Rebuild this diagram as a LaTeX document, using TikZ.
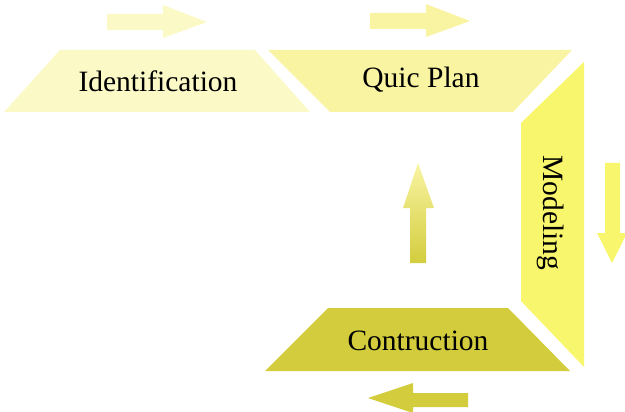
\documentclass[tikz,border=0pt]{standalone}
\usepackage{fontspec}
\setmainfont{Liberation Serif}
\definecolor{paleyel}{HTML}{FBF9C6}
\definecolor{lightyel}{HTML}{F9F4A2}
\definecolor{brightyel}{HTML}{F8F66C}
\definecolor{oliveyel}{HTML}{D3CD3E}
\begin{document}
\begin{tikzpicture}[x=1pt,y=-1pt]
			\useasboundingbox (0,0) rectangle (625,412);
			
			% the four blocks
			\fill[paleyel] (60,50) -- (255,50) -- (310,112) -- (4,112) -- cycle;
			\fill[lightyel] (268,50) -- (572,50) -- (513,112) -- (330,112) -- cycle;
			\fill[brightyel] (521,123) -- (584,62) -- (584,367) -- (521,301) -- cycle;
			\fill[oliveyel] (328,308) -- (508,308) -- (570,371) -- (265,371) -- cycle;
			
			\begin{scope}[every node/.style={inner sep=0pt,anchor=base,
				font=\fontsize{29.5}{34}\selectfont}]
			\node (I) at (158,92) {Identification};
			\node (Q) at (421,88) {Quic Plan};
			\node[rotate=-90] (M) at (543,213) {Modeling};
			\node (C) at (418,350) {Contruction};
			\end{scope}
			
			% block arrows
			\fill[paleyel] (107,14) -- (163,14) -- (163,5) -- (207,22) -- (163,38) -- (163,30) -- (107,30) -- cycle;
			\fill[lightyel] (370,13) -- (426,13) -- (426,4) -- (470,21) -- (426,37) -- (426,29) -- (370,29) -- cycle;
			\fill[brightyel] (605,163) -- (620,163) -- (620,233) -- (627,233) -- (612,263) -- (597,233) -- (605,233) -- cycle;
			\shade[top color=lightyel,bottom color=oliveyel] (410,263) -- (410,208) -- (403,208) -- (418,163) -- (434,208) -- (426,208) -- (426,263) -- cycle;
			\fill[oliveyel] (468,393) -- (413,393) -- (413,383) -- (368,398) -- (413,413) -- (413,407) -- (468,407) -- cycle;
\end{tikzpicture}
\end{document}
